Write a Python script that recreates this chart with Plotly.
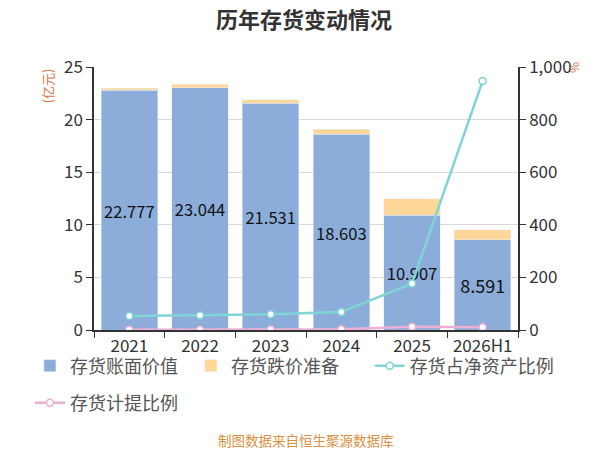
import plotly.graph_objects as go

years = ["2021", "2022", "2023", "2024", "2025", "2026H1"]
book_value = [22.777, 23.044, 21.531, 18.603, 10.907, 8.591]
impairment = [0.20, 0.30, 0.35, 0.50, 1.55, 0.95]
inv_to_net_assets = [53, 56, 60, 68, 177, 947]
provision_ratio = [0.9, 1.3, 1.6, 2.6, 12.4, 10.0]

font_family = "Noto Sans CJK SC"
blue = "#8cadd9"
orange = "#ffd899"
cyan = "#7fd4d6"
pink = "#ecb0d6"

fig = go.Figure()

fig.add_trace(
    go.Bar(
        x=years,
        y=book_value,
        name="存货账面价值",
        marker={"color": blue},
        text=[f"{v:.3f}" for v in book_value],
        textposition="inside",
        insidetextanchor="middle",
        textangle=0,
        textfont={"size": 18, "color": "#111111"},
        legend="legend",
    )
)
fig.add_trace(
    go.Bar(
        x=years,
        y=impairment,
        name="存货跌价准备",
        marker={"color": orange},
        legend="legend",
    )
)
fig.add_trace(
    go.Scatter(
        x=years,
        y=inv_to_net_assets,
        name="存货占净资产比例",
        yaxis="y2",
        mode="lines+markers",
        line={"color": cyan, "width": 2.5},
        marker={"symbol": "circle", "size": 7, "color": "white",
                "line": {"color": cyan, "width": 1.5}},
        legend="legend3",
    )
)
fig.add_trace(
    go.Scatter(
        x=years,
        y=provision_ratio,
        name="存货计提比例",
        yaxis="y2",
        mode="lines+markers",
        line={"color": pink, "width": 2.5},
        marker={"symbol": "circle", "size": 7, "color": "white",
                "line": {"color": pink, "width": 1.5}},
        legend="legend2",
    )
)

axis_common = {
    "showline": True,
    "linecolor": "#333333",
    "linewidth": 1.5,
    "ticks": "outside",
    "ticklen": 6,
    "tickcolor": "#333333",
    "tickfont": {"size": 17, "color": "#333333"},
    "zeroline": False,
}

legend_common = {
    "orientation": "h",
    "xref": "container",
    "yref": "container",
    "xanchor": "left",
    "yanchor": "middle",
    "bgcolor": "rgba(0,0,0,0)",
    "font": {"size": 18, "color": "#555555"},
}

# page body has an 8px margin, so the figure is a bit smaller than the window
fig.update_layout(
    width=592,
    height=442,
    barmode="stack",
    bargap=0.2,
    plot_bgcolor="white",
    paper_bgcolor="white",
    font={"family": font_family, "color": "#333333", "size": 16},
    margin={"l": 86, "r": 82, "t": 59, "b": 120, "autoexpand": False},
    title={
        "text": "<b>历年存货变动情况</b>",
        "x": 0.5,
        "xanchor": "center",
        "y": 0.972,
        "yanchor": "middle",
        "font": {"size": 22, "color": "#333333"},
    },
    xaxis={**axis_common, "type": "category", "tickson": "boundaries"},
    yaxis={
        **axis_common,
        "range": [0, 25],
        "dtick": 5,
        "showgrid": True,
        "gridcolor": "#d9d9d9",
    },
    yaxis2={
        **axis_common,
        "overlaying": "y",
        "side": "right",
        "range": [0, 1000],
        "dtick": 200,
        "tickformat": ",",
        "showgrid": False,
    },
    legend={**legend_common, "traceorder": "normal", "x": 0.037, "y": 0.19,
            "entrywidth": 116},
    legend3={**legend_common, "x": 0.611, "y": 0.19},
    legend2={**legend_common, "x": 0.037, "y": 0.106},
    annotations=[
        {
            "text": "(亿元)",
            "xref": "paper",
            "yref": "paper",
            "x": -0.111,
            "y": 0.93,
            "xanchor": "center",
            "yanchor": "middle",
            "showarrow": False,
            "textangle": -90,
            "font": {"size": 13, "color": "#d9743f"},
        },
        {
            "text": "%",
            "xref": "paper",
            "yref": "paper",
            "x": 1.137,
            "y": 1.0,
            "xanchor": "center",
            "yanchor": "middle",
            "showarrow": False,
            "textangle": 90,
            "font": {"size": 12, "color": "#d9743f"},
        },
        {
            "text": "制图数据来自恒生聚源数据库",
            "xref": "paper",
            "yref": "paper",
            "x": 0.5,
            "xanchor": "center",
            "y": -0.418,
            "yanchor": "middle",
            "showarrow": False,
            "font": {"size": 13.5, "color": "#d9913f"},
        },
    ],
)

fig.write_html("out.html")
